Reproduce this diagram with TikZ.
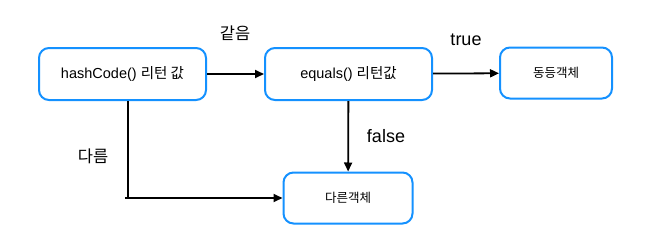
\documentclass[tikz,border=0pt]{standalone}
\usepackage{fontspec}
\setmainfont{Liberation Sans}
\newfontfamily\kr{Noto Sans CJK KR}
\usetikzlibrary{arrows.meta}
\definecolor{boxblue}{RGB}{20,145,255}
\tikzset{
  box/.style={draw=boxblue, line width=2pt, rounded corners=10pt, fill=white, inner sep=0pt},
  arr/.style={line width=1.8pt, -{Triangle[length=9pt,width=8pt]}},
  ln/.style={line width=1.8pt},
  lbl/.style={font=\fontsize{17}{20}\selectfont, inner sep=0pt}
}
\begin{document}
\begin{tikzpicture}[x=1pt,y=-1pt]
\useasboundingbox (0,0) rectangle (655,239);
\node[box, minimum width=167pt, minimum height=52pt, font=\fontsize{14.5}{17}\selectfont] (hash) at (122.5,74) {hashCode() {\kr 리턴 값}};
\node[box, minimum width=167pt, minimum height=52pt, font=\fontsize{14.5}{17}\selectfont] (eq) at (348.5,74) {equals() {\kr 리턴값}};
\node[box, minimum width=112pt, minimum height=51pt, font=\kr\fontsize{12.5}{15}\selectfont] (same) at (556,73) {동등객체};
\node[box, minimum width=129pt, minimum height=51pt, font=\kr\fontsize{12.5}{15}\selectfont] (diff) at (348,198) {다른객체};
\coordinate (c1) at (128,198);
\coordinate (c0) at (125,198);
\draw[arr] (hash) -- (eq);
\draw[arr] (eq) -- (same);
\draw[arr] (eq) -- (diff);
\draw[ln] (hash.south -| c1) -- (c1);
\draw[arr] (c0) -- (diff.west);
\node[lbl, font=\kr\fontsize{16.5}{20}\selectfont] (l1) at (235,33) {같음};
\node[lbl, font=\fontsize{18}{21}\selectfont] (l2) at (466,40) {true};
\node[lbl, font=\fontsize{18}{21}\selectfont] (l3) at (386,136) {false};
\node[lbl, font=\kr\fontsize{16.5}{20}\selectfont] (l4) at (93,156) {다름};
\end{tikzpicture}
\end{document}
